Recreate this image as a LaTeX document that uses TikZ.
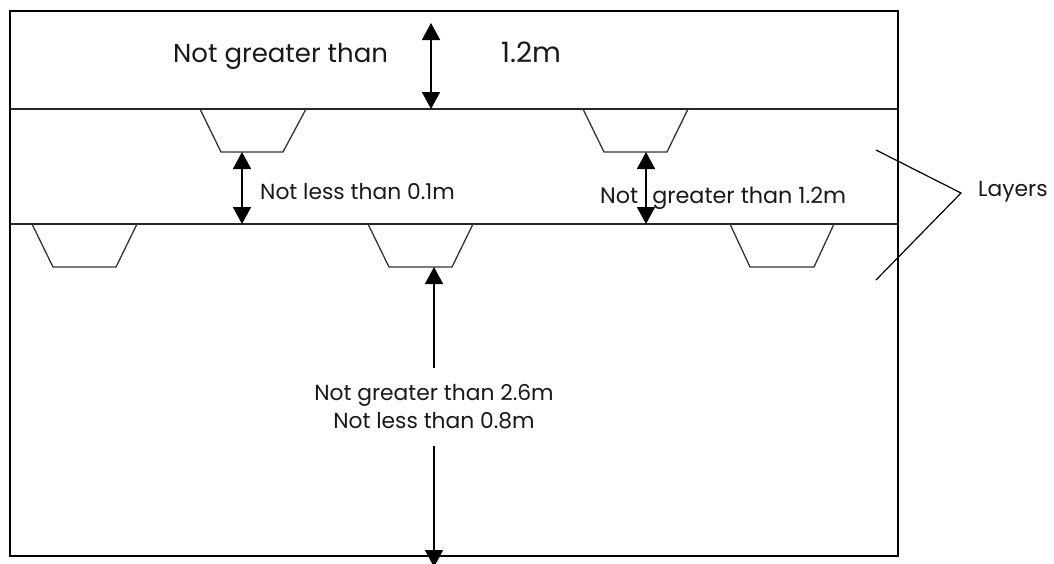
\documentclass[tikz,border=0pt]{standalone}
\usepackage{fontspec}
\setmainfont{Poppins}
\usetikzlibrary{arrows.meta}
\tikzset{
  frameline/.style={draw=black,line width=1.6pt},
  layerline/.style={draw=black!85,line width=1.5pt},
  trench/.style={draw=black!80,line width=1.3pt},
  dimline/.style={draw=black,line width=1.6pt,{Triangle[length=17pt,width=18pt,inset=0pt]}-{Triangle[length=17pt,width=18pt,inset=0pt]}},
  dimhead/.style={draw=black,line width=1.6pt,-{Triangle[length=17pt,width=18pt,inset=0pt]}},
  leader/.style={draw=black,line width=1.2pt},
  biglabel/.style={inner sep=0pt,text=black!90,font=\fontsize{26}{30}\selectfont},
  smalllabel/.style={inner sep=0pt,text=black!90,font=\fontsize{21.8}{28}\selectfont,align=center}
}
\begin{document}
\begin{tikzpicture}[x=1pt,y=-1pt]
\useasboundingbox (0,0) rectangle (1054,563);
\fill[white] (0,0) rectangle (1054,563);
% layer lines and trenches
\draw[layerline] (10,109) -- (898,109);
\draw[layerline] (10,224) -- (898,224);
\foreach \x/\a/\b/\c/\d/\y in {0/200/221/283/306/109,1/583/604/667/688/109,2/32/53/116/137/224,3/368/389/452/473/224,4/730/750/814/834/224}
  \draw[trench] (\a,\y) -- (\b,\y+43) -- (\c,\y+43) -- (\d,\y);
\draw[frameline] (10,11) rectangle (898,556);
% labels
\node[biglabel,anchor=base west] (ngt) at (173,62) {Not greater than};
\node[biglabel,anchor=base west,font=\fontsize{28}{32}\selectfont] (val) at (501,62) {1.2m};
\node[smalllabel,anchor=base west] (nlt) at (260,199) {Not less than 0.1m};
\node[smalllabel,anchor=base west,font=\fontsize{22.3}{28}\selectfont] (ngtb) at (600,203) {Not\hspace{14pt}greater than 1.2m};
\node[smalllabel,anchor=center,minimum width=240pt,minimum height=77pt] (depth) at (434,407) {Not greater than 2.6m\\Not less than 0.8m};
\node[smalllabel,anchor=base west] (layers) at (978,196) {Layers};
% dimension arrows
\coordinate (a1t) at (431,23); \coordinate (a1b) at (431,109);
\coordinate (a2t) at (242,152); \coordinate (a2b) at (242,224);
\coordinate (a3t) at (646,152); \coordinate (a3b) at (646,224);
\coordinate (a4t) at (434,267); \coordinate (a4b) at (434,567);
\draw[dimline] (a1t) -- (a1b);
\draw[dimline] (a2t) -- (a2b);
\draw[dimline] (a3t) -- (a3b);
\draw[dimhead] (depth.north) -- (a4t);
\draw[dimhead] (depth.south) -- (a4b);
% leader
\coordinate (l1) at (876,150); \coordinate (l2) at (961,193); \coordinate (l3) at (876,280);
\draw[leader] (l1) -- (l2) -- (l3);
\end{tikzpicture}
\end{document}
